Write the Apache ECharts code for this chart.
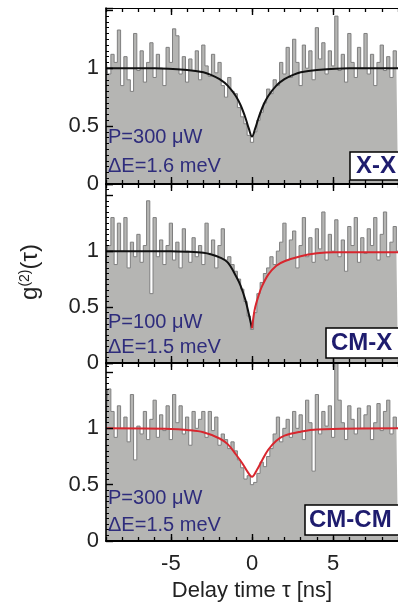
<!DOCTYPE html>
<html>
<head>
<meta charset="utf-8">
<script src="https://cdn.jsdelivr.net/npm/echarts@6/dist/echarts.min.js"></script>
<style>
  html, body { margin: 0; padding: 0; background: #fff; }
  #chart { width: 398px; height: 603px; }
</style>
</head>
<body>
<div id="chart"></div>
<script>
// bin centres (ns)
const delay = [
  -9.0, -8.8, -8.6, -8.4, -8.2, -8.0, -7.8, -7.6, -7.4, -7.2,
  -7.0, -6.8, -6.6, -6.4, -6.2, -6.0, -5.8, -5.6, -5.4, -5.2,
  -5.0, -4.8, -4.6, -4.4, -4.2, -4.0, -3.8, -3.6, -3.4, -3.2,
  -3.0, -2.8, -2.6, -2.4, -2.2, -2.0, -1.8, -1.6, -1.4, -1.2,
  -1.0, -0.8, -0.6, -0.4, -0.2, 0.0, 0.2, 0.4, 0.6, 0.8,
  1.0, 1.2, 1.4, 1.6, 1.8, 2.0, 2.2, 2.4, 2.6, 2.8,
  3.0, 3.2, 3.4, 3.6, 3.8, 4.0, 4.2, 4.4, 4.6, 4.8,
  5.0, 5.2, 5.4, 5.6, 5.8, 6.0, 6.2, 6.4, 6.6, 6.8,
  7.0, 7.2, 7.4, 7.6, 7.8, 8.0, 8.2, 8.4, 8.6, 8.8,
  9.0
];

// measured g2 histograms
const histXX = [
  1.08, 0.95, 1.12, 1.05, 1.33, 0.85, 1.10, 0.90, 0.80, 1.30,
  0.98, 1.15, 0.88, 1.05, 1.22, 0.92, 1.12, 1.00, 0.85, 1.18,
  1.05, 1.34, 1.28, 0.95, 1.10, 0.88, 1.08, 0.98, 1.15, 0.90,
  1.20, 1.02, 0.93, 1.12, 0.96, 1.05, 0.85, 0.75, 0.92, 0.80,
  0.78, 0.66, 0.58, 0.52, 0.42, 0.36, 0.45, 0.55, 0.62, 0.70,
  0.82, 0.78, 0.90, 0.85, 1.05, 0.95, 1.18, 0.92, 1.25, 1.05,
  0.85, 1.20, 1.00, 1.15, 0.90, 1.35, 1.08, 1.22, 0.95, 1.15,
  1.02, 1.45, 0.98, 1.12, 0.88, 1.30, 1.05, 0.92, 1.18, 1.00,
  1.30, 0.95, 1.12, 0.85, 1.05, 1.20, 0.98, 1.10, 0.92, 1.15,
  1.00
];
const histCMX = [
  0.90, 1.05, 1.30, 0.88, 1.25, 1.00, 1.30, 0.85, 1.08, 0.95,
  1.15, 0.90, 1.05, 1.45, 0.62, 1.30, 0.95, 1.10, 0.88, 1.05,
  1.25, 0.92, 1.08, 0.85, 1.20, 1.00, 0.90, 1.12, 0.95, 1.05,
  0.88, 1.25, 0.98, 1.10, 0.85, 1.05, 1.20, 0.92, 0.95, 0.88,
  0.82, 0.75, 0.66, 0.55, 0.42, 0.30, 0.45, 0.62, 0.72, 0.80,
  0.85, 0.95, 0.88, 1.00, 1.08, 1.25, 0.92, 1.10, 1.18, 0.85,
  1.05, 1.30, 0.95, 1.12, 0.90, 1.20, 1.02, 1.35, 0.92, 1.15,
  1.00, 1.28, 0.95, 1.10, 0.82, 1.22, 1.05, 1.30, 0.90, 1.12,
  0.98, 1.20, 1.05, 1.30, 0.92, 1.15, 1.35, 0.95, 1.08, 1.22,
  1.00
];
const histCMCM = [
  1.05, 1.35, 1.15, 0.92, 1.20, 1.00, 1.10, 0.88, 1.30, 0.72,
  1.02, 0.95, 1.15, 0.90, 1.08, 1.25, 0.92, 1.12, 0.98, 1.20,
  0.90, 1.30, 1.05, 1.20, 0.95, 1.10, 0.85, 1.15, 1.00, 1.08,
  1.15, 0.92, 1.15, 0.98, 1.10, 0.85, 0.95, 0.90, 0.82, 0.88,
  0.80, 0.72, 0.65, 0.55, 0.58, 0.50, 0.52, 0.60, 0.70, 0.66,
  0.75, 0.82, 0.95, 1.10, 0.88, 1.00, 1.08, 0.92, 1.15, 1.00,
  1.12, 0.90, 1.25, 1.05, 0.62, 1.30, 0.95, 1.15, 1.02, 1.20,
  0.92, 1.58, 1.25, 1.05, 0.90, 1.20, 1.08, 0.95, 1.18, 1.00,
  1.12, 1.20, 0.90, 1.05, 1.22, 0.98, 1.15, 1.25, 0.95, 1.10,
  1.00
];

// fit curves
const fitXXTime  = [-9, -6, -4, -3, -2.5, -2, -1.5, -1, -0.7, -0.4, -0.2, 0, 0.2, 0.4, 0.7, 1, 1.5, 2, 2.5, 3, 4, 6, 9];
const fitXXValue = [1, 1, 0.985, 0.965, 0.94, 0.905, 0.85, 0.76, 0.68, 0.57, 0.48, 0.41, 0.48, 0.57, 0.68, 0.76, 0.85, 0.905, 0.94, 0.965, 0.985, 1, 1];

const fitCMXLeftTime  = [-9, -5, -4, -3, -2.5, -2, -1.5, -1, -0.7, -0.4, -0.2, 0];
const fitCMXLeftValue = [1, 1, 0.995, 0.985, 0.97, 0.945, 0.9, 0.78, 0.69, 0.56, 0.44, 0.31];
const fitCMXRightTime  = [0, 0.1, 0.2, 0.4, 0.6, 1, 1.5, 2, 3, 4, 5, 9];
const fitCMXRightValue = [0.31, 0.42, 0.5, 0.6, 0.68, 0.79, 0.87, 0.91, 0.955, 0.98, 0.99, 0.99];

const fitCMCMTime  = [-9, -5, -4, -3, -2, -1.5, -1, -0.6, -0.3, 0, 0.3, 0.6, 1, 1.5, 2, 3, 4, 9];
const fitCMCMValue = [1, 0.995, 0.985, 0.965, 0.91, 0.86, 0.77, 0.69, 0.62, 0.57, 0.63, 0.71, 0.81, 0.89, 0.935, 0.97, 0.99, 1];

const xTickLabels = [-5, 0, 5];
const yTickLabels = [0, 0.5, 1];

const FONT = 'Liberation Sans, Arial, sans-serif';
const FIT_RED = '#d8262e';
const NAVY = '#2e2c7c';

const zip = (xs, ys) => xs.map((x, i) => [x, ys[i]]);

// panel layout in px
const panels = [
  { top: 8, height: 176, max: 1.52 },
  { top: 184, height: 179, max: 1.6 },
  { top: 363, height: 180, max: 1.58 }
];

var myChart = echarts.init(document.getElementById('chart'), null, { renderer: 'canvas' });

const grid = panels.map(p => ({ left: 106, right: -6, top: p.top, height: p.height }));

const xAxis = [];
panels.forEach((p, i) => {
  const last = i === panels.length - 1;
  ['bottom', 'top'].forEach(pos => {
    // minor ticks every 1 ns
    xAxis.push({
      type: 'value', gridIndex: i, position: pos, min: -9, max: 9, interval: 1, z: 10,
      axisLine: { show: false },
      axisTick: { inside: true, length: 4, lineStyle: { color: '#000', width: 1.3 } },
      axisLabel: { show: false },
      splitLine: { show: false }
    });
    // major ticks at -5, 0, 5
    xAxis.push({
      type: 'value', gridIndex: i, position: pos, min: -9, max: 9, z: 10,
      axisLine: { show: true, onZero: false, lineStyle: { color: '#000', width: pos === 'bottom' ? 2 : 1.2 } },
      axisTick: { inside: true, length: 7, customValues: xTickLabels, lineStyle: { color: '#000', width: 1.4 } },
      axisLabel: {
        show: last && pos === 'bottom', customValues: xTickLabels, margin: 12,
        color: '#222', fontSize: 22, fontFamily: FONT
      },
      splitLine: { show: false },
      name: last && pos === 'bottom' ? 'Delay time τ [ns]' : '',
      nameLocation: 'middle', nameGap: 39,
      nameTextStyle: { color: '#222', fontSize: 22, fontFamily: FONT }
    });
  });
});

const yAxis = panels.map((p, i) => ({
  type: 'value', gridIndex: i, min: 0, max: p.max, interval: 0.5, z: 10,
  axisLine: { show: true, onZero: false, lineStyle: { color: '#000', width: 1.6 } },
  axisTick: { inside: true, length: 7, lineStyle: { color: '#000', width: 1.4 } },
  minorTick: { show: true, splitNumber: 10, length: 3, lineStyle: { color: '#000', width: 1 } },
  axisLabel: {
    margin: 7, color: '#222', fontSize: 22, fontFamily: FONT,
    formatter: v => (yTickLabels.indexOf(v) >= 0 ? String(v) : '')
  },
  splitLine: { show: false }
}));

const histSeries = (data, i) => ({
  type: 'line', xAxisIndex: i * 4 + 1, yAxisIndex: i, step: 'middle',
  data: zip(delay, data), symbol: 'none', clip: true,
  lineStyle: { color: '#7f7f7f', width: 1 },
  areaStyle: { color: '#b5b5b3', opacity: 1 },
  z: 2
});
const fitSeries = (t, v, i, color) => ({
  type: 'line', xAxisIndex: i * 4 + 1, yAxisIndex: i, smooth: 0.35,
  data: zip(t, v), symbol: 'none', clip: true,
  lineStyle: { color: color, width: 2 },
  z: 5
});

const annotation = (x, y, text) => ({
  type: 'text', x: x, y: y, z: 100,
  style: { text: text, fill: NAVY, font: '20px ' + FONT, verticalAlign: 'middle' }
});
const labelBox = (x, y, w, h, text, tx) => ([
  { type: 'rect', z: 100, shape: { x: x, y: y, width: w, height: h }, style: { fill: '#fff', stroke: '#000', lineWidth: 1.5 } },
  { type: 'text', z: 101, x: tx, y: y + h / 2, style: { text: text, fill: '#1e1c6e', font: 'bold 24px ' + FONT, verticalAlign: 'middle' } }
]);

myChart.setOption({
  animation: false,
  backgroundColor: '#fff',
  grid: grid,
  xAxis: xAxis,
  yAxis: yAxis,
  series: [
    histSeries(histXX, 0),
    fitSeries(fitXXTime, fitXXValue, 0, '#111'),
    histSeries(histCMX, 1),
    fitSeries(fitCMXLeftTime, fitCMXLeftValue, 1, '#111'),
    fitSeries(fitCMXRightTime, fitCMXRightValue, 1, FIT_RED),
    histSeries(histCMCM, 2),
    fitSeries(fitCMCMTime, fitCMCMValue, 2, FIT_RED)
  ],
  graphic: [
    annotation(108, 137, 'P=300 μW'),
    annotation(108, 166, 'ΔE=1.6 meV'),
    annotation(108, 322, 'P=100 μW'),
    annotation(108, 347, 'ΔE=1.5 meV'),
    annotation(108, 498, 'P=300 μW'),
    annotation(108, 525, 'ΔE=1.5 meV'),
    ...labelBox(350, 152, 60, 28, 'X-X', 356),
    ...labelBox(326, 328, 80, 30, 'CM-X', 331),
    ...labelBox(305, 505, 100, 30, 'CM-CM', 309),
    {
      type: 'text', x: 30, y: 272, rotation: Math.PI / 2, z: 100,
      style: {
        text: '{a|g}{b|(2)}{a|(τ)}', align: 'center', verticalAlign: 'middle',
        rich: {
          a: { fontSize: 24, fontFamily: FONT, fill: '#222' },
          b: { fontSize: 14, fontFamily: FONT, fill: '#222', verticalAlign: 'top' }
        }
      }
    }
  ]
});
</script>
</body>
</html>
